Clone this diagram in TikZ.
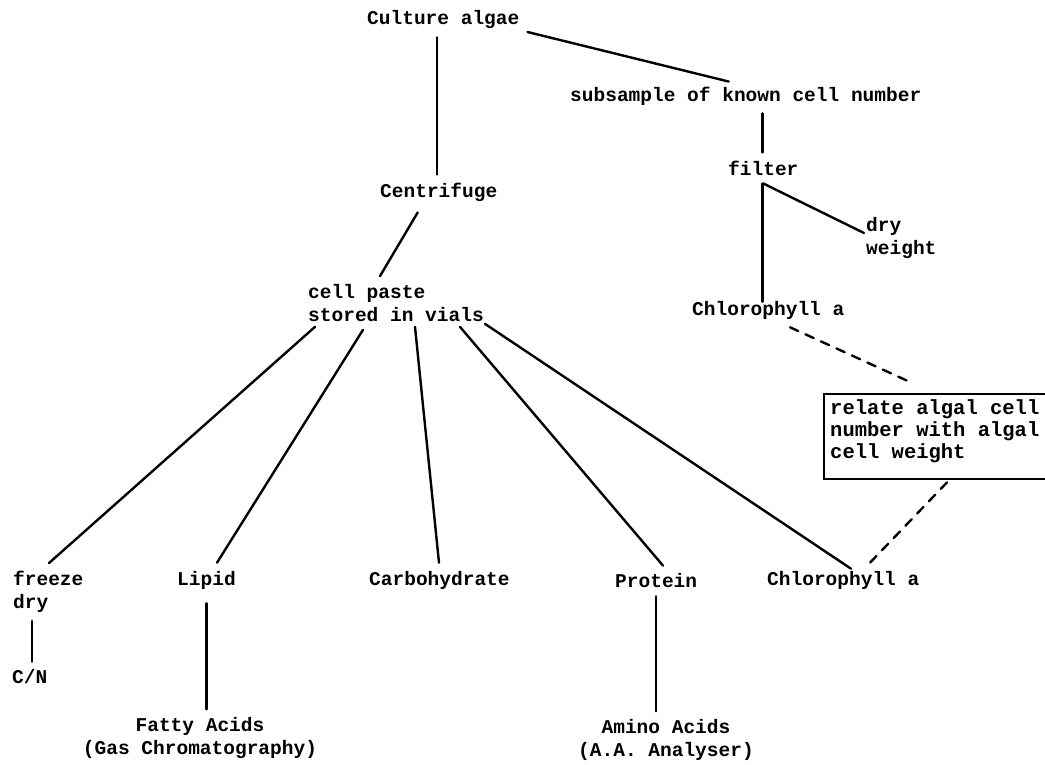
\documentclass[tikz,border=0pt]{standalone}
\usepackage{fontspec}
\newfontfamily\typewriter{Liberation Mono}

\begin{document}
\begin{tikzpicture}[x=1pt,y=-1pt,
  lbl/.style={font=\typewriter\bfseries\fontsize{19.5}{23}\selectfont,
    inner xsep=2pt, inner ysep=8pt, anchor=west, align=left},
  link/.style={line width=2.4pt, line cap=round},
  guess/.style={link, dash pattern=on 9pt off 8pt}]
  \useasboundingbox (0,0) rectangle (1045,765);

  % upper part
  \node[lbl] (culture) at (365,20) {Culture algae};
  \node[lbl] (subsample) at (568,96) {subsample of known cell number};
  \node[lbl] (filter) at (726,168) {filter};
  \node[lbl] (dryweight) at (864,238) {dry\\weight};
  \node[lbl] (centrifuge) at (378,192) {Centrifuge};
  \node[lbl] (paste) at (306,303) {cell paste\\stored in vials};
  \node[lbl] (chlfilter) at (690,310) {Chlorophyll a};
  \node[draw, line width=2.4pt, anchor=north west, minimum width=250pt,
    minimum height=85pt] (relate) at (823,393) {};
  \node[lbl, font=\typewriter\bfseries\fontsize{20.5}{22}\selectfont,
    anchor=north west, inner sep=0pt] (relatetext) at ([shift={(7pt,-6pt)}]relate.north west)
    {relate algal cell\\number with algal\\cell weight};

  % analyses of the vials
  \node[lbl] (freeze) at (11,592) {freeze\\dry};
  \node[lbl] (cn) at (10,677) {C/N};
  \node[lbl] (lipid) at (175,580) {Lipid};
  \node[lbl, anchor=center, align=center] (fatty) at (200,738) {Fatty Acids\\(Gas Chromatography)};
  \node[lbl] (carbo) at (367,580) {Carbohydrate};
  \node[lbl] (protein) at (613,581) {Protein};
  \node[lbl, anchor=center, align=center] (amino) at (666,740) {Amino Acids\\(A.A. Analyser)};
  \node[lbl] (chlvial) at (765,580) {Chlorophyll a};

  \draw[link] ([xshift=-6pt]culture.south) -- ([xshift=-6pt]culture.south |- centrifuge.north);
  \draw[link] ([shift={(6pt,-12pt)}]culture.east) -- ([shift={(-17pt,-3pt)}]subsample.north);
  \draw[link] ([xshift=-1pt]filter.north |- subsample.south) -- ([xshift=-1pt]filter.north);
  \draw[link] ([xshift=-1pt]filter.south) -- ([xshift=-1pt,yshift=-9pt]filter.south |- chlfilter.north);
  \draw[link] (filter.south) -- ([yshift=5pt]dryweight.west);
  \draw[link] ([shift={(-21pt,-3pt)}]centrifuge.south) -- ([xshift=-16pt]paste.north);

  \draw[link] ([shift={(9pt,3pt)}]paste.south west) -- ([xshift=38pt]freeze.north west);
  \draw[link] ([xshift=57pt]paste.south west) -- ([xshift=42pt]lipid.north west);
  \draw[link] ([shift={(109pt,3pt)}]paste.south west) -- ([xshift=72pt]carbo.north west);
  \draw[link] ([shift={(154pt,3pt)}]paste.south west) -- ([xshift=50pt]protein.north west);
  \draw[link] ([shift={(179pt,6pt)}]paste.south west) -- ([shift={(86pt,-6pt)}]chlvial.north west);

  \draw[link] ([xshift=21pt]freeze.south west) -- ([xshift=21pt]freeze.south west |- cn.north);
  \draw[link] ([yshift=-6pt]lipid.south) -- (lipid.south |- fatty.north);
  \draw[link] (protein.south) -- (protein.south |- amino.north);

  \draw[guess] ([xshift=100pt]chlfilter.south west) -- ([shift={(87pt,11pt)}]relate.north west);
  \draw[guess] ([shift={(124pt,-2pt)}]relate.south west) -- ([xshift=105pt]chlvial.north west);
\end{tikzpicture}
\end{document}
